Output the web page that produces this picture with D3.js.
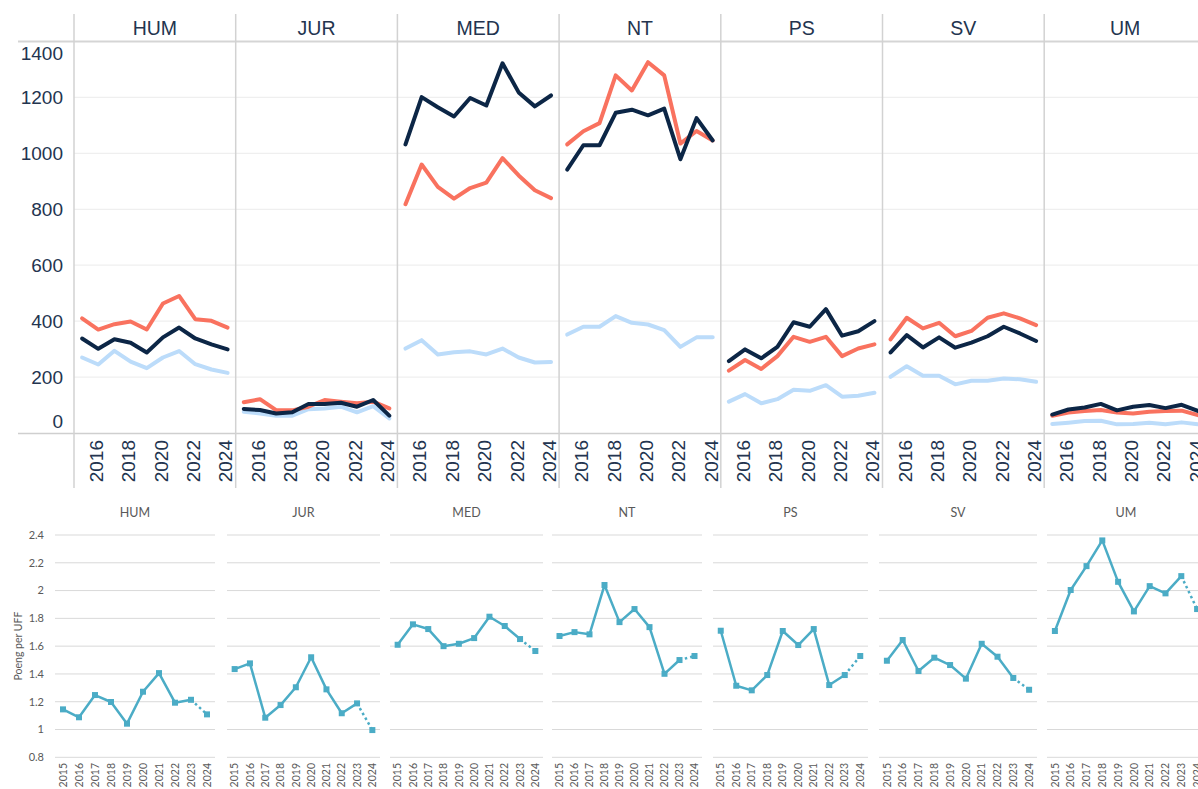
<!DOCTYPE html>
<html>
<head>
<meta charset="utf-8">
<script src="https://cdn.jsdelivr.net/npm/d3@7"></script>
<style>
  html, body { margin: 0; padding: 0; background: #ffffff; }
  svg { display: block; }
</style>
</head>
<body>
<svg id="chart" width="1198" height="789"></svg>
<script>
// ---------- DATA ----------
const years = [2015, 2016, 2017, 2018, 2019, 2020, 2021, 2022, 2023, 2024];
const faculties = ["HUM", "JUR", "MED", "NT", "PS", "SV", "UM"];

// Top chart: three series per faculty (order follows `faculties`)
const navyValues = [
  [338, 301, 335, 323, 288, 342, 377, 338, 317, 299],
  [86, 82, 70, 74, 104, 104, 108, 94, 118, 62],
  [1032, 1201, 1165, 1132, 1198, 1171, 1322, 1218, 1168, 1207],
  [942, 1029, 1029, 1145, 1156, 1136, 1160, 979, 1126, 1046],
  [257, 299, 267, 308, 396, 380, 443, 348, 364, 400],
  [288, 350, 306, 342, 305, 323, 346, 380, 356, 329],
  [66, 84, 91, 104, 81, 94, 100, 89, 101, 79]
];
const salmonValues = [
  [410, 370, 389, 399, 370, 463, 490, 407, 401, 377],
  [110, 121, 82, 81, 94, 118, 112, 106, 112, 88],
  [818, 960, 880, 838, 876, 895, 983, 921, 868, 840],
  [1032, 1079, 1108, 1279, 1225, 1326, 1279, 1035, 1080, 1046],
  [223, 261, 229, 275, 344, 326, 344, 275, 302, 317],
  [335, 412, 374, 394, 346, 365, 412, 428, 410, 386],
  [62, 73, 79, 82, 73, 70, 76, 79, 80, 64]
];
const lightValues = [
  [270, 245, 294, 255, 232, 270, 293, 246, 227, 215],
  [76, 70, 62, 62, 85, 88, 94, 74, 96, 52],
  [302, 332, 281, 289, 292, 281, 302, 270, 252, 254],
  [352, 380, 380, 418, 394, 388, 368, 308, 342, 342],
  [112, 139, 106, 121, 155, 151, 171, 130, 133, 144],
  [201, 239, 205, 205, 174, 187, 187, 195, 192, 183],
  [32, 37, 43, 44, 31, 32, 37, 31, 38, 31]
];
const topYTicks = [0, 200, 400, 600, 800, 1000, 1200, 1400];
const topXTicks = [2016, 2018, 2020, 2022, 2024];

// Bottom chart: Poeng per UFF per faculty
const poengValues = [
  [1.145, 1.088, 1.248, 1.198, 1.042, 1.272, 1.406, 1.193, 1.214, 1.109],
  [1.435, 1.476, 1.085, 1.176, 1.304, 1.520, 1.289, 1.117, 1.188, 0.996],
  [1.610, 1.757, 1.723, 1.600, 1.617, 1.658, 1.812, 1.745, 1.651, 1.565],
  [1.673, 1.701, 1.685, 2.040, 1.773, 1.867, 1.737, 1.401, 1.500, 1.529],
  [1.711, 1.315, 1.282, 1.392, 1.709, 1.608, 1.723, 1.320, 1.392, 1.529],
  [1.495, 1.644, 1.421, 1.517, 1.464, 1.366, 1.617, 1.524, 1.371, 1.286],
  [1.709, 2.004, 2.176, 2.361, 2.063, 1.850, 2.032, 1.980, 2.104, 1.867]
];
const bottomYTicks = [0.8, 1, 1.2, 1.4, 1.6, 1.8, 2, 2.2, 2.4];
const bottomYTitle = "Poeng per UFF";

// ---------- LAYOUT / STYLE ----------
const svg = d3.select("#chart");
const topFont = "'Liberation Sans', Arial, sans-serif";
const botFont = "Lato, 'Open Sans', sans-serif";
const textNavy = "#23344f";
const colNavy = "#0c2646", colSalmon = "#f9725f", colLight = "#bcdcfa";

// ===== TOP CHART =====
const topX = d3.scaleBand().domain(faculties).range([74, 74 + 7 * 161.7]).padding(0);
const topY = d3.scaleLinear().domain([0, 1400]).range([433, 41.5]);
const inner = d3.scalePoint().domain(years).range([0, topX.bandwidth()]).padding(0.5);

const topG = svg.append("g");

// gridlines
faculties.forEach(f => {
  topG.append("g").selectAll("line").data(topYTicks.filter(t => t > 0 && t < 1400)).join("line")
    .attr("x1", topX(f)).attr("x2", topX(f) + topX.bandwidth())
    .attr("y1", d => topY(d)).attr("y2", d => topY(d))
    .attr("stroke", "#efefef").attr("stroke-width", 1.2);
});

// header and axis lines
topG.append("line").attr("x1", 18).attr("x2", 1198).attr("y1", 41.5).attr("y2", 41.5)
  .attr("stroke", "#d5d5d5").attr("stroke-width", 2);
topG.append("line").attr("x1", 18).attr("x2", 1198).attr("y1", 433.5).attr("y2", 433.5)
  .attr("stroke", "#cfcfcf").attr("stroke-width", 1.5);

// panel separators
faculties.forEach(f => {
  topG.append("line").attr("x1", topX(f)).attr("x2", topX(f)).attr("y1", 14).attr("y2", 488)
    .attr("stroke", "#d2d2d2").attr("stroke-width", 1.5);
});

// y labels
topG.append("g").selectAll("text").data(topYTicks).join("text")
  .attr("x", 63)
  .attr("y", d => Math.max(53, Math.min(421, topY(d))))
  .attr("dy", "0.36em")
  .attr("text-anchor", "end")
  .attr("font-family", topFont).attr("font-size", 19).attr("fill", textNavy)
  .text(d => d);

// panel titles
topG.append("g").selectAll("text").data(faculties).join("text")
  .attr("x", d => topX(d) + topX.bandwidth() / 2)
  .attr("y", 28).attr("dy", "0.36em")
  .attr("text-anchor", "middle")
  .attr("font-family", topFont).attr("font-size", 19.5).attr("fill", textNavy)
  .text(d => d);

// x labels (rotated)
faculties.forEach(f => {
  topG.append("g").selectAll("text").data(topXTicks).join("text")
    .attr("transform", d => `translate(${topX(f) + inner(d) - 2},440) rotate(-90)`)
    .attr("dy", "0.36em")
    .attr("text-anchor", "end")
    .attr("font-family", topFont).attr("font-size", 19).attr("fill", textNavy)
    .text(d => d);
});

// lines
const topLine = d3.line().x(d => d[0]).y(d => topY(d[1]));
const seriesSets = [[lightValues, colLight], [salmonValues, colSalmon], [navyValues, colNavy]];
seriesSets.forEach(([vals, col]) => {
  faculties.forEach((f, i) => {
    const pts = years.map((y, j) => [topX(f) + inner(y), vals[i][j]]);
    topG.append("path").attr("d", topLine(pts))
      .attr("fill", "none").attr("stroke", col).attr("stroke-width", 4)
      .attr("stroke-linejoin", "round").attr("stroke-linecap", "round");
  });
});

// ===== BOTTOM CHART =====
const botPanels = [[55, 215], [227, 380], [390, 543], [552, 702], [713, 868], [879, 1037], [1047, 1205]];
const botY = d3.scaleLinear().domain([0.8, 2.4]).range([757.3, 535]);
const botG = svg.append("g");
const blue = "#4bacc6";
const gridGrey = "#d9d9d9";
const textGrey = "#595959";

faculties.forEach((f, i) => {
  const [x0, x1] = botPanels[i];
  const px = d3.scalePoint().domain(years).range([x0, x1]).padding(0.5);
  const g = botG.append("g");
  g.selectAll("line").data(bottomYTicks).join("line")
    .attr("x1", x0).attr("x2", x1)
    .attr("y1", d => botY(d)).attr("y2", d => botY(d))
    .attr("stroke", gridGrey).attr("stroke-width", 1);
  g.append("text").attr("x", (x0 + x1) / 2).attr("y", 513).attr("dy", "0.35em")
    .attr("text-anchor", "middle").attr("font-family", botFont).attr("font-size", 12.5)
    .attr("fill", textGrey).text(f);
  g.append("g").selectAll("text").data(years).join("text")
    .attr("transform", d => `translate(${px(d)},763) rotate(-90)`)
    .attr("dy", "0.35em").attr("text-anchor", "end")
    .attr("font-family", botFont).attr("font-size", 10.5).attr("fill", textGrey)
    .text(d => d);
  const pts = years.map((y, j) => [px(y), poengValues[i][j]]);
  const ln = d3.line().x(d => d[0]).y(d => botY(d[1]));
  g.append("path").attr("d", ln(pts.slice(0, 9)))
    .attr("fill", "none").attr("stroke", blue).attr("stroke-width", 2.5)
    .attr("stroke-linejoin", "round");
  g.append("path").attr("d", ln(pts.slice(8, 10)))
    .attr("fill", "none").attr("stroke", blue).attr("stroke-width", 2.5)
    .attr("stroke-dasharray", "2.5,3");
  g.append("g").selectAll("rect").data(pts).join("rect")
    .attr("x", d => d[0] - 3).attr("y", d => botY(d[1]) - 3)
    .attr("width", 6).attr("height", 6).attr("fill", blue);
});

// y tick labels and title
botG.append("g").selectAll("text").data(bottomYTicks).join("text")
  .attr("x", 44).attr("y", d => botY(d)).attr("dy", "0.35em")
  .attr("text-anchor", "end").attr("font-family", botFont).attr("font-size", 11)
  .attr("fill", textGrey).text(d => d3.format("")(d));
botG.append("text").attr("transform", "translate(18,646) rotate(-90)")
  .attr("dy", "0.35em").attr("text-anchor", "middle")
  .attr("font-family", botFont).attr("font-size", 10.5).attr("fill", textGrey)
  .text(bottomYTitle);
</script>
</body>
</html>
